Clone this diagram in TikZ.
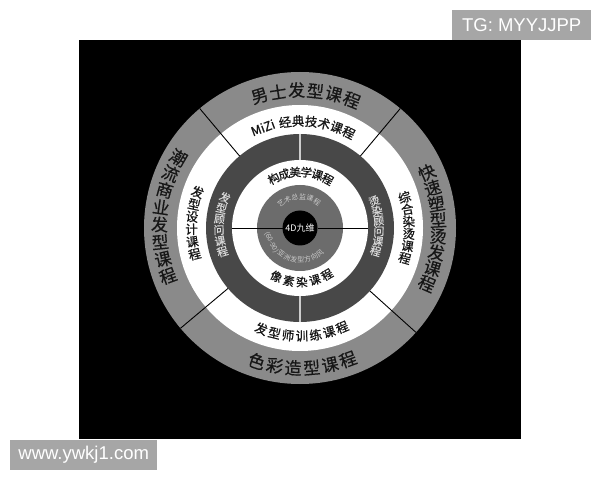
\documentclass[tikz,border=0pt]{standalone}
\usepackage{fontspec}
\setmainfont{Noto Sans CJK SC}
\newfontfamily\cjkb{Noto Sans CJK SC}[FakeBold=0.8]
\newfontfamily\cjkc{Noto Sans CJK SC}[FakeBold=0.5]
\newfontfamily\latinsans{Liberation Sans}
\definecolor{ringA}{RGB}{138,138,138}
\definecolor{ringD}{RGB}{72,72,72}
\definecolor{ringM}{RGB}{108,108,108}
\definecolor{boxgray}{RGB}{166,166,166}
\definecolor{txtdark}{RGB}{22,22,22}
\definecolor{txtlight}{RGB}{215,215,215}
\definecolor{txtmid}{RGB}{200,200,200}
\definecolor{sepl}{RGB}{205,205,205}
\newcommand\charsarc[7]{%
  \foreach \ch [count=\k from 0] in {#7}{%
    \pgfmathsetmacro\ang{#3+\k*(#4)}%
    \pgfmathsetmacro\rot{\ang+(#5)}%
    \node[#6, rotate=\rot] (#1\k) at (\ang:#2) {\ch};}}
\tikzset{
  outer/.style={inner sep=0pt, text=txtdark, font=\cjkc\fontsize{17}{18}\selectfont},
  wring/.style={inner sep=0pt, text=txtdark, font=\cjkb\fontsize{12.5}{13}\selectfont},
  dring/.style={inner sep=0pt, text=txtlight, font=\cjkc\fontsize{11}{12}\selectfont},
  iring/.style={inner sep=0pt, text=txtdark, font=\cjkb\fontsize{11.5}{12}\selectfont},
  mring/.style={inner sep=0pt, text=txtmid, font=\fontsize{7}{8}\selectfont},
  ctext/.style={inner sep=0pt, text=white, font=\fontsize{9}{10}\selectfont},
  tagbox/.style={fill=boxgray, text=white, inner sep=0pt, font=\latinsans\fontsize{18.5}{19}\selectfont},
  divline/.style={black, line width=0.9pt},
  darksep/.style={sepl, line width=1.3pt},
  hline/.style={black, line width=0.8pt}
}
\begin{document}
\begin{tikzpicture}[x=1pt,y=1pt]
\useasboundingbox (0,0) rectangle (600,480);
\fill[white] (0,0) rectangle (600,480);
\fill[black] (79,41) rectangle (521,440);
\node[tagbox, minimum width=139pt, minimum height=30pt, anchor=south west] (tg) at (452,440) {TG: MYYJJPP};
\node[tagbox, minimum width=147pt, minimum height=30pt, anchor=south west] (www) at (10,10) {www.ywkj1.com};
\begin{scope}[shift={(300,252)}]
\fill[ringA] (0,0) circle (156);
\fill[white] (0,0) circle (123);
\fill[ringD] (0,0) circle (94);
\fill[white] (0,0) circle (68);
\fill[ringM] (0,0) circle (43);
\fill[black] (0,0) circle (17.5);
\foreach \a in {50,130,220,318} \draw[divline] (\a:94) -- (\a:156);
\foreach \a in {90,270} \draw[darksep] (\a:68) -- (\a:94);
\foreach \a in {0,180} \draw[hline] (\a:17.5) -- (\a:68);
% outer ring
\charsarc{ot}{138}{107}{-7.8}{-90}{outer}{男,士,发,型,课,程}
\charsarc{ob}{140}{252}{7.6}{-270}{outer}{色,彩,造,型,课,程}
\charsarc{ol}{140.5}{150}{7.14}{-180}{outer}{潮,流,商,业,发,型,课,程}
\charsarc{or}{138.5}{23.6}{-6.76}{0}{outer}{快,速,塑,型,烫,发,课,程}
% white ring
\node[wring, rotate=20.3] (mizi) at (110.3:107) {MiZi};
\charsarc{wt}{107}{98}{-7}{-90}{wring}{经,典,技,术,课,程}
\charsarc{wb}{108}{249}{7.33}{-270}{wring}{发,型,师,训,练,课,程}
\charsarc{wl}{108.5}{160.7}{6.66}{-180}{wring}{发,型,设,计,课,程}
\charsarc{wr}{109}{16.4}{-6.5}{0}{wring}{综,合,染,烫,课,程}
% dark ring
\charsarc{dl}{81}{158}{7.8}{-180}{dring}{发,型,顾,问,课,程}
\charsarc{dr}{79}{20}{-7.4}{0}{dring}{烫,染,顾,问,课,程}
% inner white ring
\charsarc{it}{56}{118}{-11.5}{-90}{iring}{构,成,美,学,课,程}
\charsarc{ib}{54}{244}{14}{-270}{iring}{像,素,染,课,程}
% middle gray
\charsarc{mt}{31}{128}{-14.2}{-90}{mring}{艺,术,总,监,课,程}
\node[mring, rotate=-63.6] (paren) at (206.4:32) {(60-90)};
\charsarc{mb}{32}{234}{12.5}{-270}{mring}{亚,洲,发,型,方,向,风}
\node[ctext] (core) at (0,0) {4D九维};
\end{scope}
\end{tikzpicture}
\end{document}
